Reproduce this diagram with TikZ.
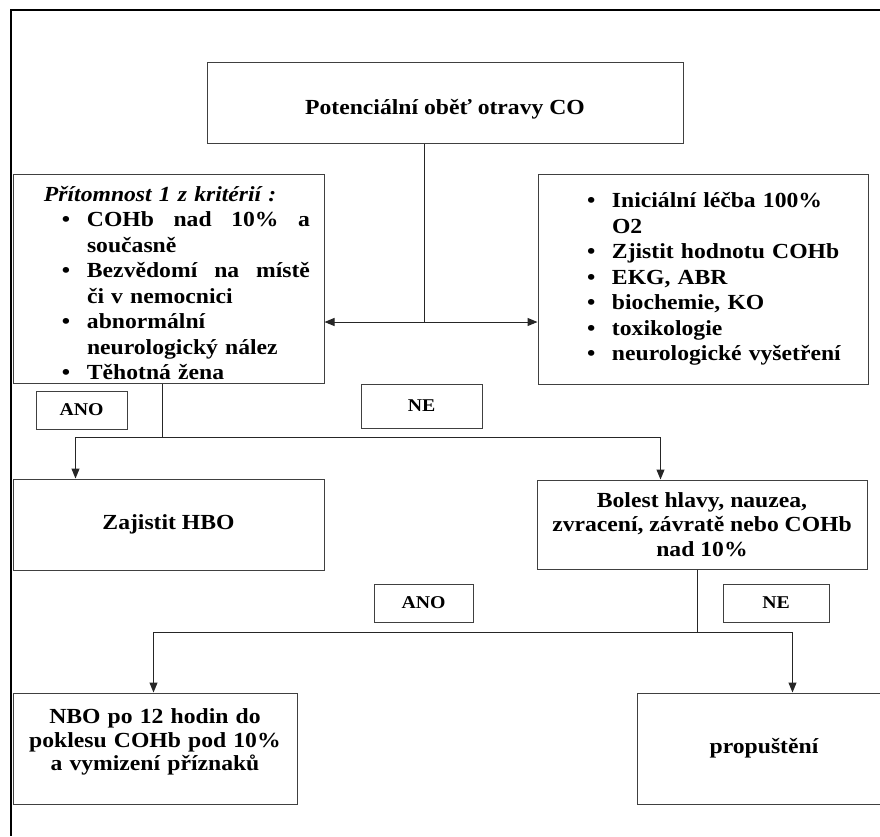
\documentclass[tikz,border=0pt]{standalone}
\usepackage{fontspec}
\setmainfont{Liberation Serif}[FakeStretch=1.1]
\usepackage{tikz}
\usetikzlibrary{arrows.meta}
\setlength\parindent{0pt}
\def\blt#1{\hspace*{35pt}\makebox[25pt][l]{\textbullet}#1}
\def\bltcont#1{\hspace*{60pt}#1}

\begin{document}
\begin{tikzpicture}[x=1pt, y=-1pt, >={Triangle[length=10pt, width=8pt]},
	box/.style={draw=black!75, line width=1pt, inner sep=0pt, font=\bfseries\fontsize{21.5}{24.5}\selectfont},
	tag/.style={draw=black!75, line width=1pt, inner sep=0pt, font=\bfseries\fontsize{18}{20}\selectfont},
	link/.style={draw=black!85, line width=1pt}]
			\useasboundingbox (0,0) rectangle (880,836);
			\draw [line width=2pt] (880,10) -- (11,10) -- (11,836);
			% boxes
			\node [box, minimum width=476, minimum height=81, text height=30pt, text depth=6pt] (victim) at (445,102.5) {Potenciální oběť otravy CO};
			\node [box, minimum width=311, minimum height=209, text width=283, align=left, font=\bfseries\fontsize{21.5}{25.5}\selectfont] (crit) at (168.5,278.5) {\rule{0pt}{24.5pt}\hspace*{17pt}\textit{Přítomnost 1 z kritérií :}\\
				\blt{COHb\hfill nad\hfill 10\%\hfill a}\\
				\bltcont{současně}\\
				\blt{Bezvědomí\hfill na\hfill místě}\\
				\bltcont{či v nemocnici}\\
				\blt{abnormální}\\
				\bltcont{neurologický nález}\\
				\blt{Těhotná žena}};
			\node [box, minimum width=330, minimum height=210, text width=302, align=left, font=\bfseries\fontsize{21.5}{25.5}\selectfont] (care) at (703,279) {\blt{Iniciální léčba 100\%}\\
				\bltcont{O2}\\
				\blt{Zjistit hodnotu COHb}\\
				\blt{EKG, ABR}\\
				\blt{biochemie, KO}\\
				\blt{toxikologie}\\
				\blt{neurologické vyšetření}};
			\node [tag, minimum width=91, minimum height=38] (ano1) at (81.5,410) {ANO};
			\node [tag, minimum width=121, minimum height=44] (ne1) at (421.5,406) {NE};
			\node [box, minimum width=311, minimum height=91] (hbo) at (168.5,524.5) {Zajistit HBO};
			\node [box, minimum width=330, minimum height=89, align=center] (symp) at (702,524.5) {Bolest hlavy, nauzea,\\ zvracení, závratě nebo COHb\\ nad 10\%};
			\node [tag, minimum width=99, minimum height=38] (ano2) at (423.5,603) {ANO};
			\node [tag, minimum width=106, minimum height=38] (ne2) at (776,603) {NE};
			\node [box, minimum width=284, minimum height=111, text width=284, align=center, font=\bfseries\fontsize{21.5}{23.5}\selectfont] (nbo) at (155,748.5) {NBO po 12 hodin do\\ poklesu COHb pod 10\%\\ a vymizení příznaků\rule[-17pt]{0pt}{17pt}};
			\node [box, minimum width=254, minimum height=111] (home) at (764,748.5) {propuštění};
			% connectors
			\coordinate (fork1) at (424,322);
			\draw [link] (victim.south -| fork1) -- (fork1);
			\draw [link, ->] (fork1) -- (fork1 -| crit.east);
			\draw [link, ->] (fork1) -- (fork1 -| care.west);
			\coordinate (fork2) at (162,437);
			\draw [link] (crit.south -| fork2) -- (fork2);
			\draw [link, ->] (fork2) -| ([xshift=63pt]hbo.north west);
			\draw [link, ->] (fork2) -| ([xshift=124pt]symp.north west);
			\coordinate (fork3) at (697,632);
			\draw [link] (symp.south -| fork3) -- (fork3);
			\draw [link, ->] (fork3) -| ([xshift=141pt]nbo.north west);
			\draw [link, ->] (fork3) -| ([xshift=156pt]home.north west);
		\end{tikzpicture}
\end{document}
